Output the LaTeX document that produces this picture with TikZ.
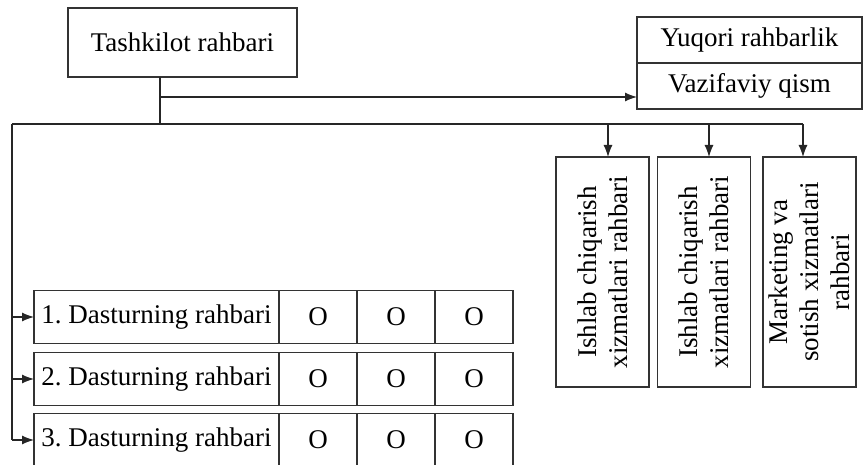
\documentclass[tikz,border=0pt]{standalone}
\usepackage{fontspec}
\setmainfont{Liberation Serif}
\usetikzlibrary{positioning,arrows.meta}
\frenchspacing

\begin{document}
\begin{tikzpicture}[
    x=0.5pt, y=-0.5pt,
    node distance=0pt and 0pt,
    font=\fontsize{13.5}{15.5}\selectfont,
    box/.style={
        rectangle,
        draw=black!80,
        line width=0.7pt,
        inner sep=1pt,
        outer sep=0pt,
        text centered
    },
    vbox/.style={
        box,
        rotate=90,
        align=center,
        minimum width=115pt,
        minimum height=46.5pt
    },
    namecell/.style={
        box,
        minimum width=122.5pt,
        minimum height=26.5pt
    },
    ocell/.style={
        box,
        minimum width=39pt,
        minimum height=26.5pt
    },
    line/.style={
        draw,
        line width=0.6pt,
        color=black!85
    },
    arrow/.style={
        draw,
        -{Latex[length=6pt,width=4.5pt]},
        line width=0.6pt,
        color=black!85
    }
]
    \useasboundingbox (0,0) rectangle (864,465);

    % --- Nodes ---

    % Top
    \node [box, minimum width=114.5pt, minimum height=34.5pt] (tash) at (182.5,42.5) {Tashkilot rahbari};
    \node [box, minimum width=112.5pt, minimum height=23pt] (yuq) at (749.5,40) {Yuqori rahbarlik};
    \node [box, minimum width=112.5pt, minimum height=23pt, below=of yuq] (vaz) {Vazifaviy qism};

    % Right column (vertical boxes)
    \node [vbox] (ish1) at (602.5,272) {Ishlab chiqarish\\xizmatlari rahbari};
    \node [vbox] (ish2) at (704,272) {Ishlab chiqarish\\xizmatlari rahbari};
    \node [vbox] (mark) at (809.5,272) {Marketing va\\sotish xizmatlari\\rahbari};

    % Programme rows
    \foreach \i/\y in {1/317, 2/379, 3/440} {
        \node [namecell] (r\i) at (156.5,\y) {\i. Dasturning rahbari};
        \node [ocell, right=of r\i] (r\i a) {O};
        \node [ocell, right=of r\i a] (r\i b) {O};
        \node [ocell, right=of r\i b] (r\i c) {O};
    }

    % Junctions
    \coordinate (jn) at (160,124);
    \coordinate (tap) at (160,97);
    \coordinate (lc) at (12,124);
    \coordinate (d1) at (608,124);
    \coordinate (d2) at (709,124);
    \coordinate (d3) at (803,124);

    % --- Connections ---
    \path [line] (jn |- tash.south) -- (jn);
    \path [arrow] (tap) -- (tap -| vaz.west);
    \path [line] (lc) -- (d3);
    \path [arrow] (d1) -- (d1 |- ish1.east);
    \path [arrow] (d2) -- (d2 |- ish2.east);
    \path [arrow] (d3) -- (d3 |- mark.east);

    % Left feed into rows
    \path [line] (lc) -- (lc |- r3.west);
    \foreach \i in {1,2,3}
        \path [arrow] (lc |- r\i.west) -- (r\i.west);

\end{tikzpicture}
\end{document}
